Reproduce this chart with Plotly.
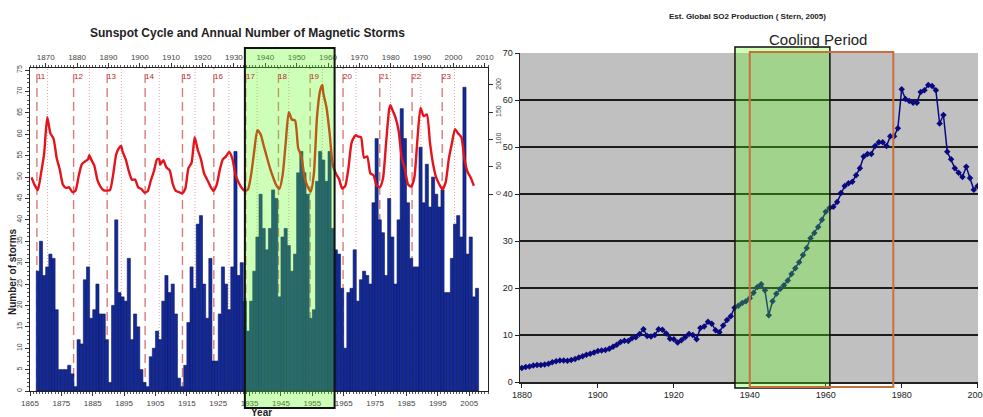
import plotly.graph_objects as go

# ---------------- data: left panel ----------------
storm_years = list(range(1867, 2008))
storm_counts = [
    28, 35, 27, 29, 32, 31, 19, 5, 5, 5, 6, 4, 1,            # 1867-1879
    12, 11, 26, 29, 17, 19, 25, 18, 18, 12,                  # 1880-1889
    2, 20, 40, 23, 22, 21, 31, 12, 18, 15,                   # 1890-1899
    5, 2, 1, 8, 10, 14, 12, 21, 27, 23,                      # 1900-1909
    25, 18, 3, 1, 6, 16, 29, 24, 39, 41,                     # 1910-1919
    25, 17, 31, 7, 7, 18, 29, 25, 19, 29,                    # 1920-1929
    56, 27, 30, 21, 14, 21, 28, 36, 46, 38,                  # 1930-1939
    33, 38, 47, 45, 22, 36, 38, 34, 28, 32,                  # 1940-1949
    51, 56, 51, 46, 17, 19, 49, 56, 54, 49,                  # 1950-1959
    56, 38, 33, 32, 24, 10, 23, 24, 33, 21,                  # 1960-1969
    26, 28, 27, 25, 44, 59, 40, 37, 27, 45,                  # 1970-1979
    36, 25, 40, 66, 59, 44, 31, 29, 29, 57,                  # 1980-1989
    44, 53, 43, 50, 46, 43, 47, 23, 23, 31,                  # 1990-1999
    39, 41, 36, 71, 32, 36, 22, 24,                          # 2000-2007
]

sunspot_years = list(range(1865, 2007))
sunspot_values = [
    30.6, 16.3, 7.3, 37.6, 74.0, 139.0, 111.2, 101.6, 66.2, 44.7,
    17.0, 11.3, 12.4, 3.4, 6.0, 32.3, 54.3, 59.7, 63.7, 63.5,
    52.2, 25.4, 13.1, 6.8, 6.3, 7.1, 35.6, 73.0, 85.1, 78.0,
    64.0, 41.8, 26.2, 26.7, 12.1, 9.5, 2.7, 5.0, 24.4, 42.0,
    63.5, 53.8, 62.0, 48.5, 43.9, 18.6, 5.7, 3.6, 1.4, 9.6,
    47.4, 57.1, 103.9, 80.6, 63.6, 37.6, 26.1, 14.2, 5.8, 16.7,
    44.3, 63.9, 69.0, 77.8, 64.9, 35.7, 21.2, 11.1, 5.7, 8.7,
    36.1, 79.7, 114.4, 109.6, 88.8, 67.8, 47.5, 30.6, 16.3, 9.6,
    33.2, 92.6, 151.6, 136.3, 134.7, 83.9, 69.4, 31.5, 13.9, 4.4,
    38.0, 141.7, 190.2, 184.8, 159.0, 112.3, 53.9, 37.6, 27.9, 10.2,
    15.1, 47.0, 93.8, 105.9, 105.5, 104.5, 66.6, 68.9, 38.0, 34.5,
    15.5, 12.6, 27.5, 92.5, 155.4, 154.6, 140.4, 115.9, 66.6, 45.9,
    17.9, 13.4, 29.4, 100.2, 157.6, 142.6, 145.7, 94.3, 54.6, 29.9,
    17.5, 8.6, 21.5, 64.3, 93.3, 119.6, 111.0, 104.0, 63.7, 40.4,
    29.8, 15.2,
]
# cycle maxima
peak_times = [1870.6, 1883.9, 1894.1, 1906.2, 1917.6, 1928.4, 1937.4,
              1947.5, 1958.2, 1968.9, 1979.9, 1989.6, 2000.3]
peak_values = [141, 71, 88, 64, 104, 77, 117, 150, 200, 108, 163, 158, 119]

cycle_numbers = [11, 12, 13, 14, 15, 16, 17, 18, 19, 20, 21, 22, 23]
cycle_minima = [1867.2, 1878.9, 1889.6, 1901.7, 1913.6, 1923.6, 1933.8,
                1944.2, 1954.3, 1964.8, 1976.5, 1986.8, 1996.4]

bottom_ticks = list(range(1865, 2006, 10))
top_ticks = list(range(1870, 2011, 10))
storm_ticks = list(range(0, 76, 5))
sunspot_ticks = [0, 50, 100, 150, 200]

# ---------------- data: right panel ----------------
so2_years = list(range(1880, 2001))
so2_values = [
    3.0, 3.2, 3.3, 3.5, 3.6, 3.6, 3.7, 3.9, 4.2, 4.4,          # 1880s
    4.6, 4.6, 4.5, 4.7, 4.9, 5.2, 5.5, 5.8, 6.0, 6.3,          # 1890s
    6.6, 6.7, 6.8, 7.1, 7.5, 7.9, 8.5, 8.8, 8.7, 9.3,          # 1900s
    9.5, 10.2, 11.2, 9.8, 9.7, 10.0, 11.2, 11.1, 10.3, 9.2,    # 1910s
    9.1, 8.4, 8.9, 9.5, 10.2, 10.0, 9.1, 11.5, 11.8, 12.8,     # 1920s
    12.4, 11.0, 10.6, 12.0, 13.2, 14.0, 15.8, 16.2, 16.8, 17.2,  # 1930s
    17.8, 19.0, 20.2, 20.8, 19.5, 14.2, 17.2, 18.8, 19.8, 20.6,  # 1940s
    21.6, 23.0, 24.2, 25.5, 27.0, 28.5, 30.6, 31.7, 33.0, 34.5,  # 1950s
    36.2, 37.0, 37.3, 38.3, 40.2, 41.7, 42.3, 42.6, 44.0, 45.5,  # 1960s
    48.0, 48.5, 48.5, 50.2, 51.0, 51.0, 50.2, 52.3, 52.3, 54.0,  # 1970s
    62.3, 60.2, 59.8, 59.4, 59.4, 61.7, 62.1, 63.2, 63.0, 62.1,  # 1980s
    55.0, 56.8, 49.0, 47.4, 45.5, 44.5, 43.6, 45.8, 43.4, 40.9,  # 1990s
    41.7,                                                       # 2000
]
so2_xticks = list(range(1880, 2001, 20))
so2_yticks = list(range(0, 71, 10))

# ---------------- helpers ----------------
W, H = 983, 417


def px(x):
    return x / W


def py(y):
    return 1 - y / H


# merge annual sunspot means with the cycle maxima
ss = {y + 0.5: v for y, v in zip(sunspot_years, sunspot_values)}
for t, v in zip(peak_times, peak_values):
    near = min(ss.keys(), key=lambda k: abs(k - t))
    if abs(near - t) < 0.25:
        ss[near] = v
    else:
        ss[t] = v
ss_t = sorted(ss.keys())
ss_v = [ss[k] for k in ss_t]

FONT = "Liberation Sans, Arial, sans-serif"
NARROW = "Liberation Sans Narrow, Arial Narrow, Liberation Sans, sans-serif"

fig = go.Figure()

fig.add_trace(go.Bar(
    x=[y + 0.5 for y in storm_years], y=storm_counts, width=1,
    marker=dict(color="#132a98", line=dict(color="#0b1860", width=0.6)),
    xaxis="x", yaxis="y", showlegend=False, hoverinfo="skip"))

fig.add_trace(go.Scatter(
    x=ss_t, y=ss_v, mode="lines",
    line=dict(color="#e3141b", width=2.4, shape="spline", smoothing=0.6),
    xaxis="x", yaxis="y2", showlegend=False, hoverinfo="skip"))

# invisible trace to carry the top axis
fig.add_trace(go.Scatter(
    x=[1865, 2011], y=[0, 0], mode="markers", marker=dict(opacity=0),
    xaxis="x2", yaxis="y", showlegend=False, hoverinfo="skip"))

fig.add_trace(go.Scatter(
    x=so2_years, y=so2_values, mode="lines+markers",
    line=dict(color="#0a0a80", width=1.5),
    marker=dict(symbol="diamond", size=5, color="#0a0a80"),
    xaxis="x3", yaxis="y3", showlegend=False, hoverinfo="skip"))

tickf = dict(size=8, color="#444", family=FONT)
tickf_small = dict(size=7, color="#444", family=FONT)
tickf_r = dict(size=9, color="#222", family=NARROW)

shapes = []
# right panel gray background
shapes.append(dict(type="rect", xref="x3 domain", yref="y3 domain", x0=0, x1=1, y0=0, y1=1,
                   fillcolor="#c0c0c0", line=dict(width=0), layer="below"))

# cycle minima (dashed) and maxima (dotted)
for m in cycle_minima:
    shapes.append(dict(type="line", xref="x", yref="paper", x0=m, x1=m, y0=py(391), y1=py(68),
                       line=dict(color="#d97b7b", width=1.4, dash="9px,5px"), layer="below"))
for p in peak_times:
    shapes.append(dict(type="line", xref="x", yref="paper", x0=p, x1=p, y0=py(391), y1=py(68),
                       line=dict(color="#e8a0a0", width=1, dash="1px,2px"), layer="below"))

# green highlight box, left
shapes.append(dict(type="rect", xref="x", yref="paper", x0=1933.5, x1=1962.1,
                   y0=py(408), y1=py(48), fillcolor="rgba(90,255,20,0.30)",
                   line=dict(color="#111", width=2), layer="above"))
# green highlight box, right
shapes.append(dict(type="rect", xref="x3", yref="paper", x0=1936.1, x1=1961.1,
                   y0=py(388), y1=py(47), fillcolor="rgba(90,255,20,0.30)",
                   line=dict(color="#111", width=1.5), layer="above"))
# orange cooling-period outline
shapes.append(dict(type="rect", xref="x3", yref="paper", x0=1940.0, x1=1977.8,
                   y0=py(387), y1=py(52), fillcolor="rgba(0,0,0,0)",
                   line=dict(color="#c8703c", width=2), layer="above"))


def note(x, y, text, size, **kw):
    d = dict(x=px(x), y=py(y), xref="paper", yref="paper", showarrow=False,
             text=text, xanchor="center", yanchor="middle",
             font=dict(size=size, color="#222", family=kw.pop("family", FONT)))
    d.update(kw)
    return d


annotations = [
    note(248, 33, "<b>Sunspot Cycle and Annual Number of Magnetic Storms</b>", 12),
    note(12, 272, "<b>Number of storms</b>", 10, textangle=-90),
    note(249, 412, "<b>Year</b>", 10, xanchor="left"),
    note(747, 17, "<b>Est. Global SO2 Production ( Stern, 2005)</b>", 8, family=NARROW),
    note(818, 40, "Cooling Period", 15),
]
for n, m in zip(cycle_numbers, cycle_minima):
    annotations.append(dict(x=m + 1.4, y=py(77), xref="x", yref="paper", showarrow=False,
                            xanchor="center", yanchor="middle",
                            text=str(n), font=dict(size=8, color="#c0282a", family=FONT)))

fig.update_layout(
    width=W, height=H, autosize=False,
    margin=dict(l=0, r=0, t=0, b=0, pad=0, autoexpand=False),
    paper_bgcolor="white", plot_bgcolor="white",
    showlegend=False, bargap=0,
    xaxis=dict(domain=[px(30), px(488)], range=[1865, 2011], anchor="y", automargin=False,
               tickmode="array", tickvals=bottom_ticks, ticks="outside", ticklen=4,
               tickcolor="#333", showline=True, linecolor="#222", linewidth=1,
               showgrid=False, zeroline=False, tickfont=tickf,
               minor=dict(tickmode="linear", tick0=1865, dtick=1, ticks="outside",
                          ticklen=2, tickcolor="#555")),
    xaxis2=dict(overlaying="x", side="top", anchor="y", range=[1865, 2011], automargin=False,
                tickmode="array", tickvals=top_ticks, ticks="outside", ticklen=4,
                tickcolor="#333", showline=True, linecolor="#222", linewidth=1,
                showgrid=False, zeroline=False, tickfont=tickf,
                minor=dict(tickmode="linear", tick0=1865, dtick=1, ticks="outside",
                           ticklen=2, tickcolor="#555")),
    yaxis=dict(domain=[py(391), py(68)], range=[0, 75.5], anchor="x", automargin=False,
               tickmode="array", tickvals=storm_ticks, tickangle=-90,
               ticks="outside", ticklen=4, tickcolor="#333", showline=True,
               linecolor="#222", linewidth=1, showgrid=False, zeroline=False,
               tickfont=tickf_small,
               minor=dict(tickmode="linear", tick0=0, dtick=1, ticks="outside",
                          ticklen=2, tickcolor="#555")),
    yaxis2=dict(overlaying="y", side="right", anchor="x", range=[-361, 231], automargin=False,
                tickmode="array", tickvals=sunspot_ticks, tickangle=-90,
                ticks="outside", ticklen=4, tickcolor="#333", showline=True,
                linecolor="#222", linewidth=1, showgrid=False, zeroline=False,
                tickfont=tickf_small),
    xaxis3=dict(domain=[px(520), px(978)], anchor="y3", range=[1879.5, 2000.1],
                automargin=False, ticklabeloverflow="allow",
                tickmode="array", tickvals=so2_xticks, ticks="outside", ticklen=4,
                tickcolor="#222", showline=True, linecolor="#222", linewidth=1.5,
                showgrid=False, zeroline=False, tickfont=tickf_r),
    yaxis3=dict(domain=[py(382), py(53)], anchor="x3", range=[0, 70], automargin=False,
                tickmode="array", tickvals=so2_yticks, ticks="outside", ticklen=4,
                tickcolor="#222", showline=True, linecolor="#222", linewidth=1.5,
                showgrid=True, gridcolor="#1c1c1c", gridwidth=1.5, zeroline=False,
                tickfont=tickf_r),
    shapes=shapes,
    annotations=annotations,
)

fig.write_html("out.html", config={"displayModeBar": False, "staticPlot": True},
               post_script="document.body.style.margin='0px';document.body.style.overflow='hidden';")
